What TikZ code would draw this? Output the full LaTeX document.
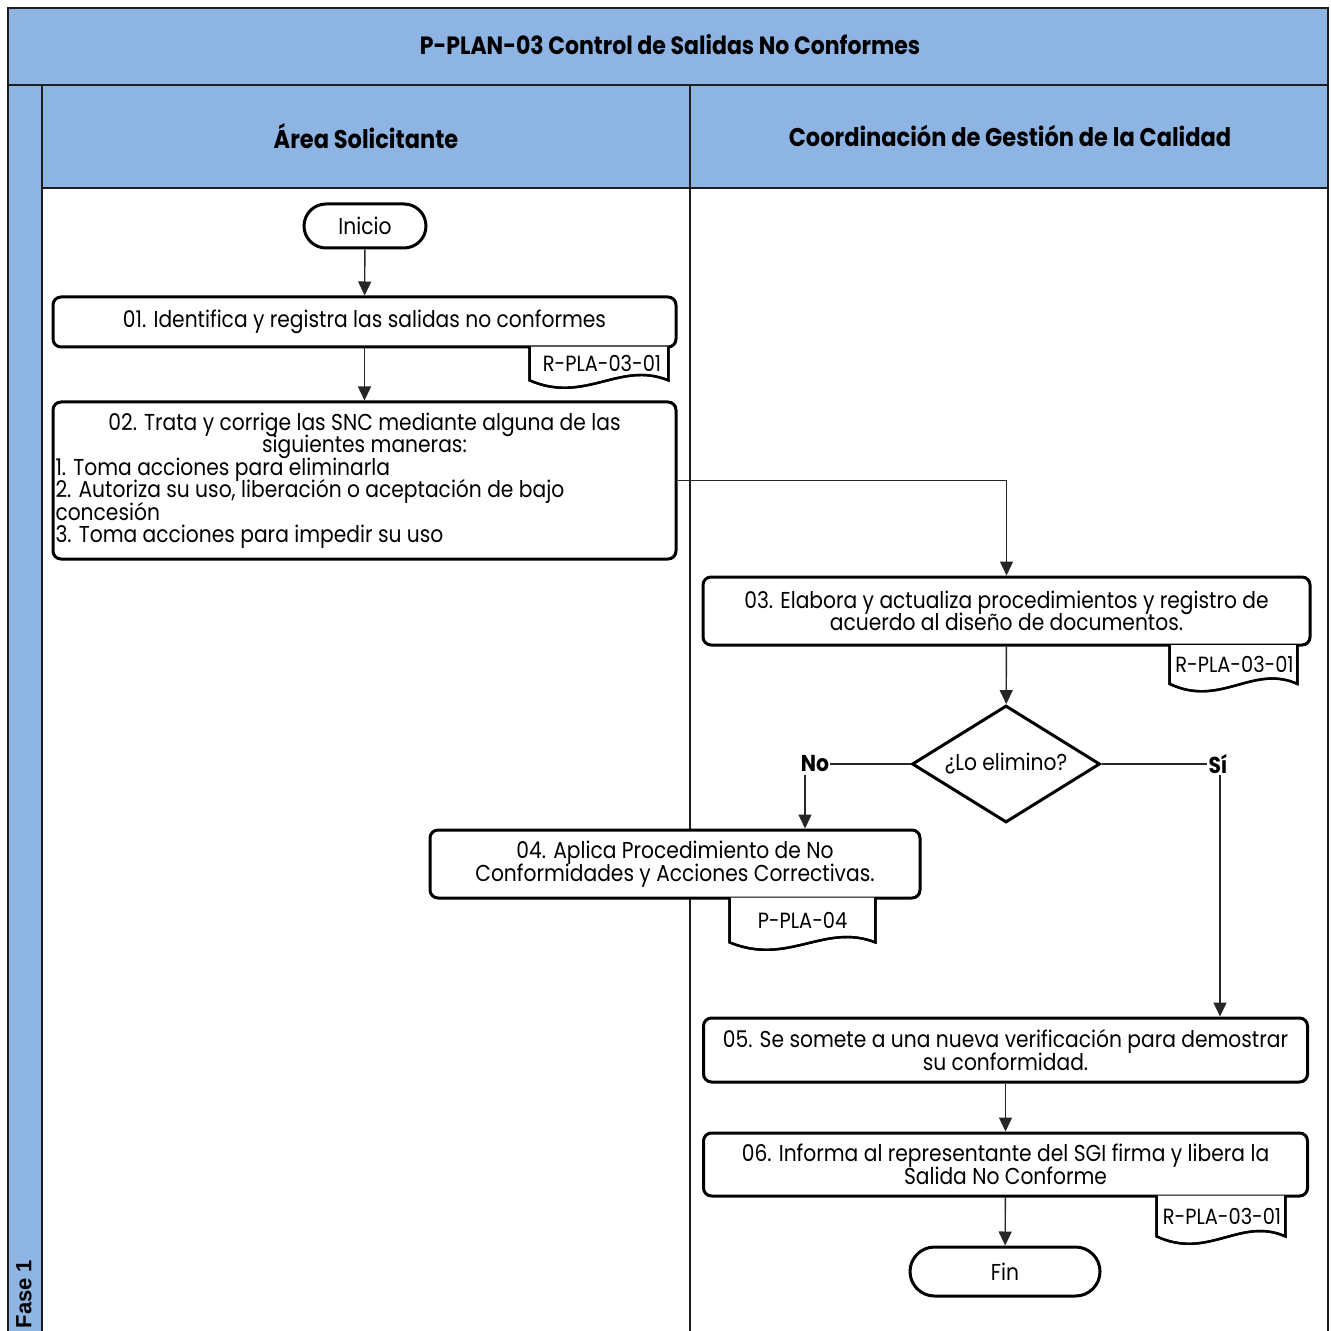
\documentclass[tikz,border=0pt]{standalone}
\usepackage{fontspec}
\setmainfont{Poppins}[FakeStretch=0.88]
\newfontfamily\fasefont{Liberation Sans}
\usetikzlibrary{arrows.meta,shapes.geometric,shapes.misc,calc}
\definecolor{hdrblue}{RGB}{142,180,227}
\definecolor{frameline}{RGB}{30,30,30}
\newcommand{\tightlines}{\lineskiplimit=-20pt\relax\lineskip=0pt\relax}
\tikzset{
  body/.style={font=\fontsize{11.5}{11.25}\selectfont\tightlines},
  procbox/.style={draw=black, line width=1.5pt, rounded corners=4pt, fill=white, body, align=center, inner sep=1pt},
  termbox/.style={rounded rectangle, draw=black, line width=1.5pt, fill=white, body, inner sep=1pt},
  decbox/.style={diamond, aspect=1.6, draw=black, line width=1.5pt, fill=white, body, inner sep=0pt},
  docbox/.style={font=\fontsize{11}{11}\selectfont, inner sep=0pt, text depth=0pt},
  docline/.style={draw=black, line width=1.2pt, fill=white},
  conn/.style={draw=black!85, line width=0.7pt},
  arr/.style={conn, -{Triangle[length=7pt,width=6.5pt]}},
  lbl/.style={font=\fontsize{11.5}{11.5}\selectfont\bfseries, inner sep=0.5pt},
  hdr/.style={font=\fontsize{12.8}{14}\selectfont\bfseries},
}
\newcommand{\docwave}[1]{%
  \path[docline] (#1.north west) -- (#1.south west)
    .. controls ($(#1.south west)!0.4!(#1.south east)+(0,24)$) and ($(#1.south west)!0.65!(#1.south east)+(0,-20)$) .. (#1.south east)
    -- (#1.north east);
  \draw[line width=1.2pt] (#1.north west) -- (#1.south west)
    .. controls ($(#1.south west)!0.4!(#1.south east)+(0,24)$) and ($(#1.south west)!0.65!(#1.south east)+(0,-20)$) .. (#1.south east)
    -- (#1.north east);}
\begin{document}
\begin{tikzpicture}[x=0.5pt,y=-0.5pt]
\useasboundingbox (0,0) rectangle (1330,1331);
% bands
\fill[hdrblue] (8,8) rectangle (1328,85);
\fill[hdrblue] (8,85) rectangle (42,1331);
\fill[hdrblue] (42,85) rectangle (1328,188);
\draw[frameline, line width=1.4pt] (8,1331) -- (8,8) -- (1328,8) -- (1328,1331);
\draw[frameline, line width=1.4pt] (8,85) -- (1328,85);
\draw[frameline, line width=1.4pt] (42,188) -- (1328,188);
\draw[frameline, line width=1.4pt] (42,85) -- (42,1331);
\draw[frameline, line width=1.2pt] (690,85) -- (690,1331);
\node[hdr, font=\fontsize{12.5}{14}\selectfont\bfseries] (title) at (670,45) {P-PLAN-03 Control de Salidas No Conformes};
\node[hdr] (lane1) at (366,136) {Área Solicitante};
\node[hdr] (lane2) at (1010,136) {Coordinación de Gestión de la Calidad};
\node[rotate=90, font=\fasefont\fontsize{11}{12}\selectfont\bfseries, inner sep=0pt] (fase) at (24,1294) {Fase 1};

% nodes
\node[termbox, minimum width=63pt, minimum height=22pt] (ini) at (365,226) {Inicio};
\node[procbox, minimum width=311.5pt, minimum height=25pt] (b1) at (364.5,322) {01. Identifica y registra las salidas no conformes};
\node[docbox, minimum width=69pt, minimum height=16.5pt] (d1) at (599,363.5) {R-PLA-03-01};
\node[procbox, minimum width=311.5pt, minimum height=78.5pt, text width=309pt, align=left, inner sep=0.5pt] (b2) at (364.5,480.5)
 {\spaceskip=0pt\relax\xspaceskip=0pt\relax
  \makebox[\linewidth][c]{02. Trata y corrige las SNC mediante alguna de las}\\
  \makebox[\linewidth][c]{siguientes maneras:}\\
  1. Toma acciones para eliminarla\\
  2. Autoriza su uso, liberación o aceptación de bajo\\
  concesión\\
  3. Toma acciones para impedir su uso};
\node[procbox, minimum width=303.5pt, minimum height=34pt] (b3) at (1006.5,611) {03. Elabora y actualiza procedimientos y registro de\\acuerdo al diseño de documentos.};
\node[docbox, minimum width=63.5pt, minimum height=19pt] (d3) at (1233.5,664.5) {R-PLA-03-01};
\node[decbox, minimum width=94pt, minimum height=58.5pt] (dec) at (1006,764) {¿Lo elimino?};
\node[lbl] (no) at (815,764) {No};
\node[lbl] (si) at (1218,764) {Sí};
\node[procbox, minimum width=245pt, minimum height=34pt] (b4) at (675,864) {04. Aplica Procedimiento de No\\Conformidades y Acciones Correctivas.};
\node[docbox, minimum width=72.5pt, minimum height=22pt] (d4) at (802.5,920) {P-PLA-04};
\node[procbox, minimum width=302pt, minimum height=32pt] (b5) at (1005.5,1050) {05. Se somete a una nueva verificación para demostrar\\su conformidad.};
\node[procbox, minimum width=302pt, minimum height=31.5pt] (b6) at (1005.5,1164.5) {06. Informa al representante del SGI firma y libera la\\Salida No Conforme};
\node[docbox, minimum width=64pt, minimum height=20pt] (d6) at (1221,1216) {R-PLA-03-01};
\node[termbox, minimum width=97pt, minimum height=24.5pt] (fin) at (1005,1271.5) {Fin};

% document shapes
\docwave{d1}
\docwave{d3}
\docwave{d4}
\docwave{d6}
\node[docbox] at ([xshift=1.5pt]d1.center) {R-PLA-03-01};
\node[docbox] at ([xshift=0.5pt]d3.center) {R-PLA-03-01};
\node[docbox] at (d4) {P-PLA-04};
\node[docbox] at ([xshift=0.5pt]d6.center) {R-PLA-03-01};

% connectors
\coordinate (noa) at (805,775);
\draw[arr] (ini) -- (b1);
\draw[arr] (b1) -- (b2);
\draw[arr] (b2.east) -| (b3.north);
\draw[arr] (b3) -- (dec);
\draw[conn] (dec.west) -- (no.east);
\draw[conn] (dec.east) -- (si.west);
\draw[arr] (noa) -- (noa |- b4.north);
\draw[arr] ([xshift=1pt]si.south) -- ([xshift=1pt]si.south |- b5.north);
\draw[arr] (b5) -- (b6);
\draw[arr] (b6) -- (fin);
\end{tikzpicture}
\end{document}
